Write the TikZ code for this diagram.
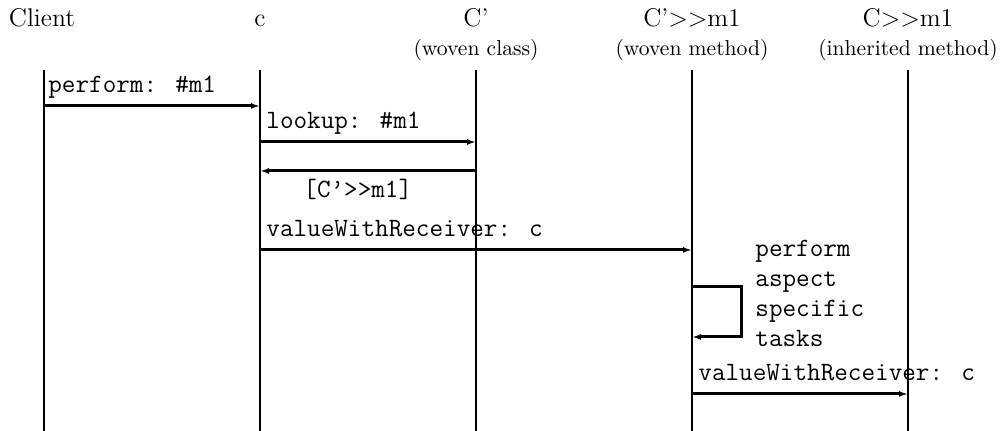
\documentclass[tikz,border=0pt]{standalone}
\usetikzlibrary{arrows.meta}
\begin{document}
\begin{tikzpicture}[x=0.5pt,y=-0.5pt,
  title/.style={font=\fontsize{12.8}{14}\selectfont, anchor=base, inner sep=0pt},
  subtitle/.style={font=\fontsize{10.8}{12}\selectfont, anchor=base, inner sep=0pt},
  msg/.style={font=\ttfamily\fontsize{13.2}{15}\selectfont, anchor=base west, inner sep=0pt},
  lifeline/.style={line width=1pt},
  call/.style={line width=1.5pt, -{Latex[length=4.5pt,width=3pt]}},
  loopline/.style={line width=1.5pt, -{Latex[length=4.5pt,width=3pt]}}]
\useasboundingbox (0,0) rectangle (1004,431);
% headers
\node[title] (hClient) at (42,27) {Client};
\node[title] (hc) at (260,27) {c};
\node[title] (hCp) at (476,27) {C'};
\node[title] (hCpm) at (692,27) {C'>{}>m1};
\node[title] (hCm) at (908,27) {C>{}>m1};
\node[subtitle] (sCp) at (476,56) {(woven class)};
\node[subtitle] (sCpm) at (692,56) {(woven method)};
\node[subtitle] (sCm) at (908,56) {(inherited method)};
% lifelines
\foreach \n/\x in {L1/44,L2/260,L3/476,L4/692,L5/908}{
  \coordinate (\n top) at (\x,70);
  \coordinate (\n bot) at (\x,431);
  \draw[lifeline] (\n top) -- (\n bot);
}
% message points
\coordinate (a1) at (44,106);  \coordinate (b1) at (260,106);
\coordinate (a2) at (260,142); \coordinate (b2) at (476,142);
\coordinate (a3) at (476,171); \coordinate (b3) at (260,171);
\coordinate (a4) at (260,250); \coordinate (b4) at (692,250);
\coordinate (l1) at (692,287); \coordinate (l2) at (741,287);
\coordinate (l3) at (741,337); \coordinate (l4) at (692,337);
\coordinate (a6) at (692,394); \coordinate (b6) at (908,394);
\draw[call] (a1) -- (b1);
\draw[call] (a2) -- (b2);
\draw[call] (a3) -- (b3);
\draw[call] (a4) -- (b4);
\draw[loopline] (l1) -- (l2) -- (l3) -- (l4);
\draw[call] (a6) -- (b6);
% labels
\node[msg] (t1) at (48,93) {perform: \#m1};
\node[msg] (t2) at (266,129) {lookup: \#m1};
\node[msg] (t3) at (303,198) {[C\textquoteright>{}>m1]};
\node[msg] (t4) at (266,237) {valueWithReceiver: c};
\node[msg, align=left, anchor=north west] (t5) at (755,240) {perform\\aspect\\specific\\tasks};
\node[msg] (t6) at (698,381) {valueWithReceiver: c};
\end{tikzpicture}
\end{document}
